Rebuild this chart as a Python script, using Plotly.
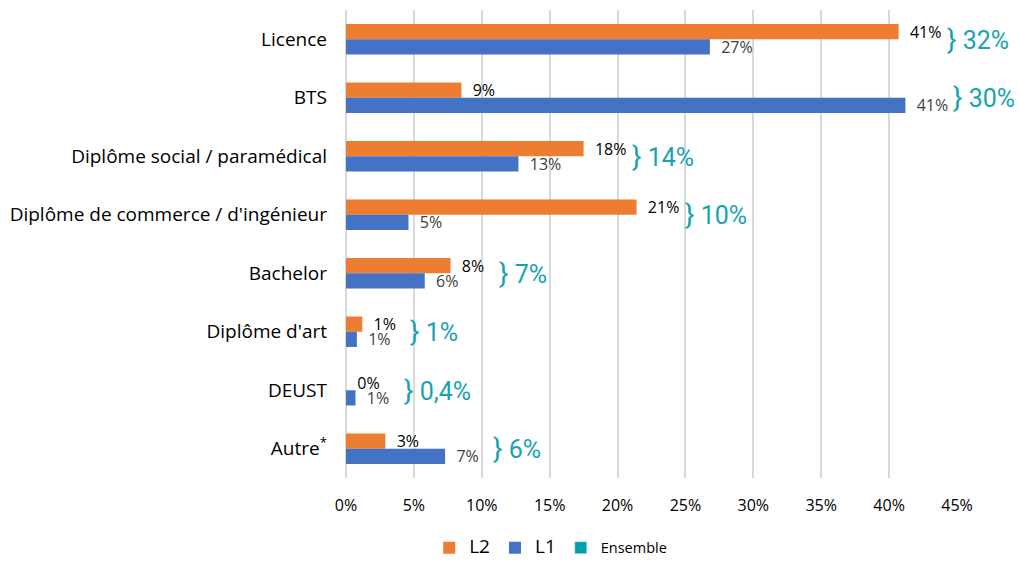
import plotly.graph_objects as go

categories = ["Licence", "BTS", "Diplôme social / paramédical",
              "Diplôme de commerce / d'ingénieur", "Bachelor",
              "Diplôme d'art", "DEUST", "Autre<sup>*</sup>"]
l2_values = [40.7, 8.5, 17.5, 21.4, 7.7, 1.2, 0.0, 2.9]
l1_values = [26.8, 41.2, 12.7, 4.6, 5.8, 0.8, 0.7, 7.3]
ensemble_labels = ["32%", "30%", "14%", "10%", "7%", "1%", "0,4%", "6%"]
tick_vals = [0, 5, 10, 15, 20, 25, 30, 35, 40, 45]
tick_text = [f"{v}%" for v in tick_vals]

ORANGE = "#ED7D31"
BLUE = "#4472C4"
TEAL = "#17A3AF"
FONT = "Open Sans"

fig = go.Figure()
fig.add_trace(go.Bar(
    y=categories, x=l2_values, orientation="h", offsetgroup="l2",
    name="<span style='font-size:19px'>L2</span>",
    marker=dict(color=ORANGE, line=dict(width=0)),
    texttemplate="\u00a0\u00a0%{x:.0f}%", textposition="outside",
    constraintext="none",
    textfont=dict(color="#000000", size=16, family=FONT), cliponaxis=False,
))
fig.add_trace(go.Bar(
    y=categories, x=l1_values, orientation="h", offsetgroup="l1",
    name="<span style='font-size:19px'>L1</span>",
    marker=dict(color=BLUE, line=dict(width=0)),
    texttemplate="\u00a0\u00a0%{x:.0f}%", textposition="outside",
    constraintext="none",
    textfont=dict(color="#404040", size=16, family=FONT), cliponaxis=False,
))
fig.add_trace(go.Bar(
    y=[categories[0]], x=[None], orientation="h", offsetgroup="l2",
    name="Ensemble",
    marker=dict(color="#00A0AA"),
))

for cat, a, b, lab in zip(categories, l2_values, l1_values, ensemble_labels):
    fig.add_annotation(
        x=max(a, b), y=cat, xref="x", yref="y",
        text="<span style='font-size:28px'>}</span> " + lab,
        showarrow=False, xanchor="left", yanchor="middle", xshift=46,
        font=dict(color=TEAL, size=25, family="Roboto"),
    )

# page body adds an 8px offset; figure sized to fill the remaining window
fig.update_layout(
    width=1014, height=553,
    margin=dict(l=338, r=65, t=2, b=83, autoexpand=False),
    paper_bgcolor="white", plot_bgcolor="white",
    barmode="group", bargap=0.48, bargroupgap=0,
    font=dict(family=FONT, size=15, color="#000000"),
    showlegend=True,
    legend=dict(orientation="h", x=0.335, xanchor="center",
                yref="container", y=0.024, yanchor="middle",
                traceorder="normal", font=dict(size=14.5, family=FONT),
                itemwidth=30),
)
fig.update_xaxes(range=[0, 45], tickvals=tick_vals, ticktext=tick_text,
                 showgrid=True, gridcolor="#D9D9D9", gridwidth=1.5,
                 zeroline=True, zerolinecolor="#D9D9D9", zerolinewidth=1.5,
                 tickfont=dict(size=16), ticks="", ticklabelstandoff=16,
                 automargin=False)
fig.update_yaxes(autorange="reversed", showgrid=False, ticks="",
                 ticklabelstandoff=18, tickfont=dict(size=19), automargin=False)

fig.write_html("out.html")
